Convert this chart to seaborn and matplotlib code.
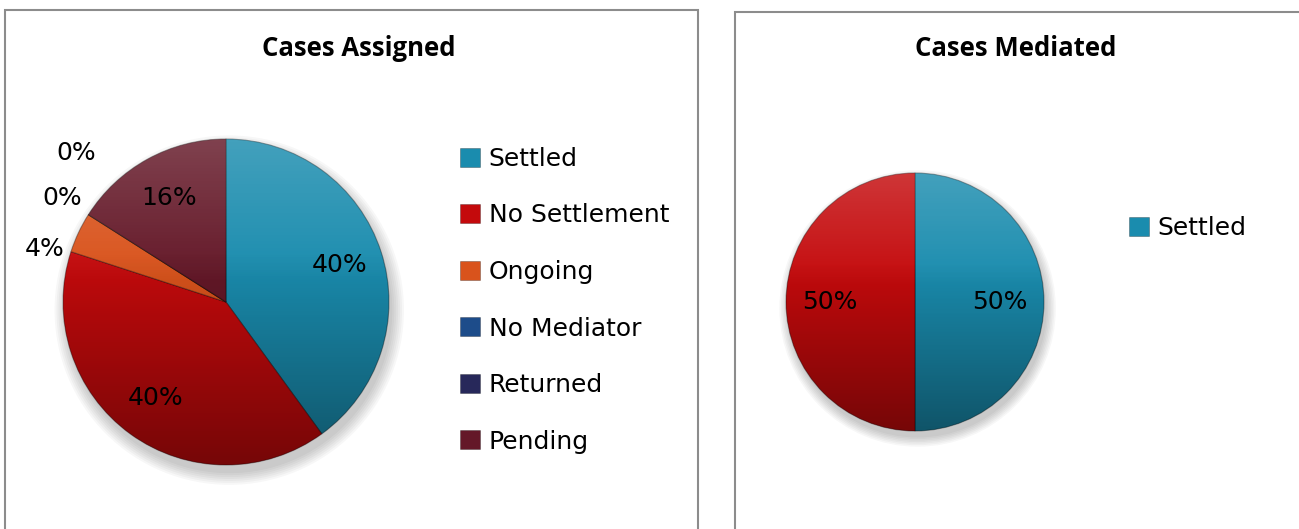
import matplotlib
matplotlib.use("Agg")
import matplotlib.pyplot as plt
import numpy as np
import seaborn as sns
from matplotlib.patches import Circle, Patch, Rectangle

sns.set_theme(style="white")
plt.rcParams["font.family"] = ["DejaVu Sans"]
plt.rcParams["text.color"] = "black"

# --------------------------------------------------------------------------- #
# Data
# --------------------------------------------------------------------------- #
assigned_labels = ["Settled", "No Settlement", "Ongoing", "No Mediator", "Returned", "Pending"]
assigned_counts = [10, 10, 1, 0, 0, 4]

mediated_labels = ["Settled", "No Settlement"]
mediated_counts = [1, 1]
mediated_legend = ["Settled"]  # the source legend only shows the first entry

palette = {
    "Settled": "#1a8cae",
    "No Settlement": "#c40a0c",
    "Ongoing": "#d9531c",
    "No Mediator": "#1d4c8a",
    "Returned": "#27285a",
    "Pending": "#641828",
}

W, H = 1299, 529


def fig_box(x0, y0, x1, y1):
    """Pixel box (top-left origin) -> figure fraction [left, bottom, w, h]."""
    return [x0 / W, 1 - y1 / H, (x1 - x0) / W, (y1 - y0) / H]


def add_gloss(ax):
    t = np.linspace(0, 1, 256)
    light = np.zeros((256, 1, 4))
    light[:, 0, :3] = 1.0
    light[:, 0, 3] = np.clip((0.45 - t) / 0.45, 0, 1) * 0.18
    dark = np.zeros((256, 1, 4))
    dark[:, 0, 3] = np.clip((t - 0.35) / 0.65, 0, 1) * 0.40
    clip = Circle((0, 0), 1.0, transform=ax.transData)
    for img in (light, dark):
        im = ax.imshow(img, extent=(-1, 1, -1, 1), origin="upper", aspect="auto",
                       interpolation="bilinear", zorder=3)
        im.set_clip_path(clip)
    for k in range(7):
        ax.add_patch(Circle((0.02, -0.05), 1.0 + 0.012 * k, fc="black", ec="none",
                            alpha=0.03, zorder=0, clip_on=False))


def draw_pie(ax, labels, counts, inside_dist, out_shift=(), out_dist=()):
    wedges, _ = ax.pie(
        counts,
        colors=[palette[c] for c in labels],
        startangle=90,
        counterclock=False,
        radius=1.0,
        wedgeprops=dict(edgecolor=(0, 0, 0, 0.35), linewidth=0.8),
    )
    for w in wedges:
        w.set_zorder(2)
    add_gloss(ax)

    total = sum(counts)
    j = 0
    for w, n in zip(wedges, counts):
        pct = 100 * n / total
        mid = (w.theta1 + w.theta2) / 2
        if pct >= 10:
            r, ang = inside_dist, mid
        else:
            r, ang = out_dist[j], mid + out_shift[j]
            j += 1
        a = np.deg2rad(ang)
        ax.text(r * np.cos(a), r * np.sin(a), f"{pct:.0f}%", ha="center", va="center",
                fontsize=18, color="black", zorder=5)

    ax.set_xlim(-1, 1)
    ax.set_ylim(-1, 1)
    ax.set_aspect("equal")
    ax.axis("off")
    return wedges


fig = plt.figure(figsize=(W / 100, H / 100), dpi=100)

# panel frames
for x0, x1, y0 in [(4.5, 697.5, 9.5), (735, 1330, 12)]:
    fig.add_artist(Rectangle((x0 / W, -0.1), (x1 - x0) / W, 1 - y0 / H + 0.1,
                             transform=fig.transFigure, fill=False,
                             ec="#8c8c8c", lw=1.5))

title_kw = dict(ha="center", va="center", fontsize=18.5, fontweight="bold",
                color="black", family=["Open Sans", "DejaVu Sans"])
leg_kw = dict(loc="upper left", frameon=False, fontsize=18, labelcolor="black",
              handlelength=0.8, handleheight=0.8, handletextpad=0.35,
              labelspacing=1.3, borderpad=0, borderaxespad=0)

# left: cases assigned
ax1 = fig.add_axes(fig_box(63, 139, 389, 465))
draw_pie(ax1, assigned_labels, assigned_counts, inside_dist=0.73,
         out_shift=(8.9, 0.0, -12.4), out_dist=(1.157, 1.188, 1.296))
fig.text(359 / W, 1 - 49 / H, "Cases Assigned", **title_kw)

handles = [Patch(fc=palette[c], ec=(0, 0, 0, 0.3), lw=0.6) for c in assigned_labels]
fig.legend(handles, assigned_labels, bbox_to_anchor=(460 / W, 1 - 147 / H), **leg_kw)

# right: cases mediated
ax2 = fig.add_axes(fig_box(786, 173, 1044, 431))
draw_pie(ax2, mediated_labels, mediated_counts, inside_dist=0.66)
fig.text(1016 / W, 1 - 49 / H, "Cases Mediated", **title_kw)

handles = [Patch(fc=palette[c], ec=(0, 0, 0, 0.3), lw=0.6) for c in mediated_legend]
fig.legend(handles, mediated_legend, bbox_to_anchor=(1129 / W, 1 - 216 / H), **leg_kw)

fig.savefig("out.png", dpi=100, facecolor="white")
